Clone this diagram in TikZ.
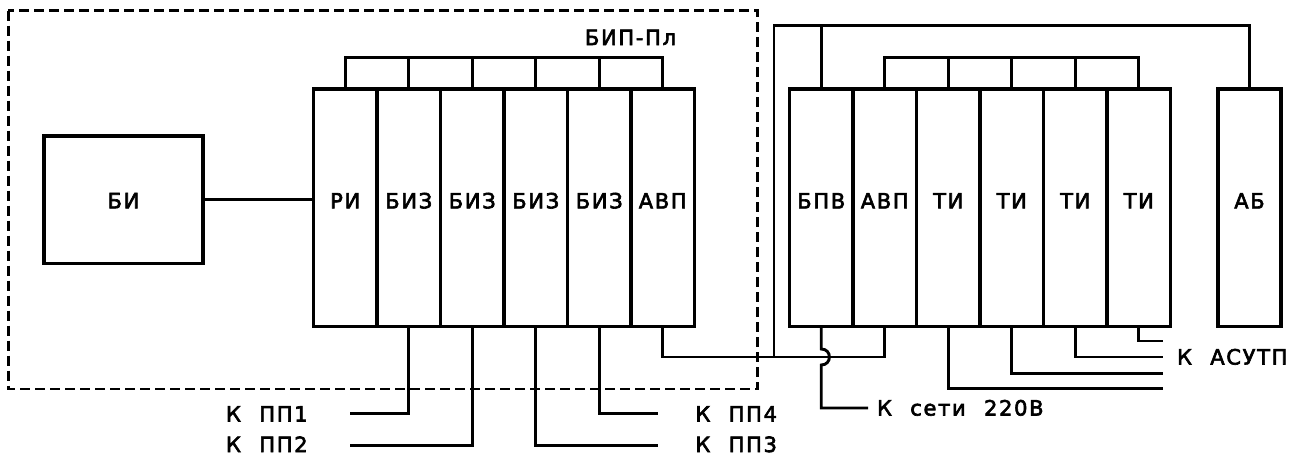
\documentclass[tikz,border=0pt]{standalone}
\usepackage{fontspec}
\setmainfont{DejaVu Sans}[LetterSpace=8, WordSpace=2.2, FakeBold=3]
\begin{document}
\begin{tikzpicture}[x=1pt,y=-1pt,
  lbl/.style={font=\fontsize{21}{21}\selectfont, inner sep=0pt, outer sep=0pt},
  mod/.style={draw, line width=3.2pt, minimum width=63.5pt, minimum height=237.5pt, inner sep=0pt, outer sep=0pt},
  wire/.style={line width=2.9pt},
  frame/.style={line width=2.9pt, dash pattern=on 10pt off 5pt}]
\useasboundingbox (0,0) rectangle (1302,461);
% dashed enclosure
\draw[frame] (8.3,10.7) rectangle (757.7,389);
\node[lbl, anchor=base] (bippl) at (630.5,45) {БИП-Пл};
% BI
\node[mod, minimum width=159pt, minimum height=127.3pt,
      label={[lbl, anchor=base, yshift=-1pt]center:БИ}] (bi) at (123.5,199.65) {};
% left rack
\node[mod, label={[lbl, anchor=base, yshift=7pt]center:РИ}]  (c1) at (345.25,207.75) {};
\node[mod, label={[lbl, anchor=base, yshift=7pt]center:БИЗ}] (c2) at (408.75,207.75) {};
\node[mod, label={[lbl, anchor=base, yshift=7pt]center:БИЗ}] (c3) at (472.25,207.75) {};
\node[mod, label={[lbl, anchor=base, yshift=7pt]center:БИЗ}] (c4) at (535.75,207.75) {};
\node[mod, label={[lbl, anchor=base, yshift=7pt]center:БИЗ}] (c5) at (599.25,207.75) {};
\node[mod, label={[lbl, anchor=base, yshift=7pt]center:АВП}] (c6) at (662.75,207.75) {};
% right rack
\node[mod, label={[lbl, anchor=base, yshift=7pt]center:БПВ}] (r1) at (821.25,207.75) {};
\node[mod, label={[lbl, anchor=base, yshift=7pt]center:АВП}] (r2) at (884.75,207.75) {};
\node[mod, label={[lbl, anchor=base, yshift=7pt]center:ТИ}]  (r3) at (948.25,207.75) {};
\node[mod, label={[lbl, anchor=base, yshift=7pt]center:ТИ}]  (r4) at (1011.75,207.75) {};
\node[mod, label={[lbl, anchor=base, yshift=7pt]center:ТИ}]  (r5) at (1075.25,207.75) {};
\node[mod, label={[lbl, anchor=base, yshift=7pt]center:ТИ}]  (r6) at (1138.75,207.75) {};
% AB
\node[mod, minimum width=63pt, label={[lbl, anchor=base, yshift=7pt]center:АБ}] (ab) at (1249.5,207.75) {};

% coordinates
\coordinate (lbus) at (0,57.3);
\coordinate (obus) at (774,25.7);
\coordinate (jn) at (774,357);
\coordinate (hopT) at (821.25,349);
\coordinate (hopB) at (821.25,365);
\coordinate (netend) at (868,408);
\coordinate (pp1) at (350,413.3);
\coordinate (pp2) at (350,445.3);
\coordinate (pp3) at (658.3,445.3);
\coordinate (pp4) at (658.3,413.3);
\coordinate (t6) at (1163.3,341);
\coordinate (t5) at (1163.3,357);
\coordinate (t4) at (1163.3,373.3);
\coordinate (t3) at (1163.3,388.7);

% BI - RI
\draw[wire] (bi.east) -- (c1.west |- bi.east);
% left bus
\draw[wire] (c1.north) -- (c1.north |- lbus) -- (c6.north |- lbus) -- (c6.north);
\foreach \n in {c2,c3,c4,c5} \draw[wire] (\n.north) -- (\n.north |- lbus);
% right bus
\draw[wire] (r2.north) -- (r2.north |- lbus) -- (r6.north |- lbus) -- (r6.north);
\foreach \n in {r3,r4,r5} \draw[wire] (\n.north) -- (\n.north |- lbus);
% outer bus
\draw[wire] (ab.north) -- (ab.north |- obus) -- (obus) -- (jn);
\draw[wire] (r1.north) -- (r1.north |- obus);
% AVP - AVP
\draw[wire] (c6.south) -- (c6.south |- jn) -- (r2.south |- jn) -- (r2.south);
% BPV to mains with hop
\draw[wire] (r1.south) -- (hopT) .. controls +(10.9,0) and +(10.9,0) .. (hopB) -- (hopB |- netend) -- (netend);
\node[lbl, anchor=base west] (net) at (877,415.5) {К сети 220В};
% PP lines
\draw[wire] (c2.south) |- (pp1);
\draw[wire] (c3.south) |- (pp2);
\draw[wire] (c4.south) |- (pp3);
\draw[wire] (c5.south) |- (pp4);
\node[lbl, anchor=base west] (lpp1) at (226,421.5) {К ПП1};
\node[lbl, anchor=base west] (lpp2) at (226,452) {К ПП2};
\node[lbl, anchor=base east] (lpp4) at (777,421.5) {К ПП4};
\node[lbl, anchor=base east] (lpp3) at (777,452) {К ПП3};
% TI lines
\draw[wire] (r6.south) |- (t6);
\draw[wire] (r5.south) |- (t5);
\draw[wire] (r4.south) |- (t4);
\draw[wire] (r3.south) |- (t3);
\node[lbl, anchor=base west] (asutp) at (1177,364.5) {К АСУТП};
\end{tikzpicture}
\end{document}
